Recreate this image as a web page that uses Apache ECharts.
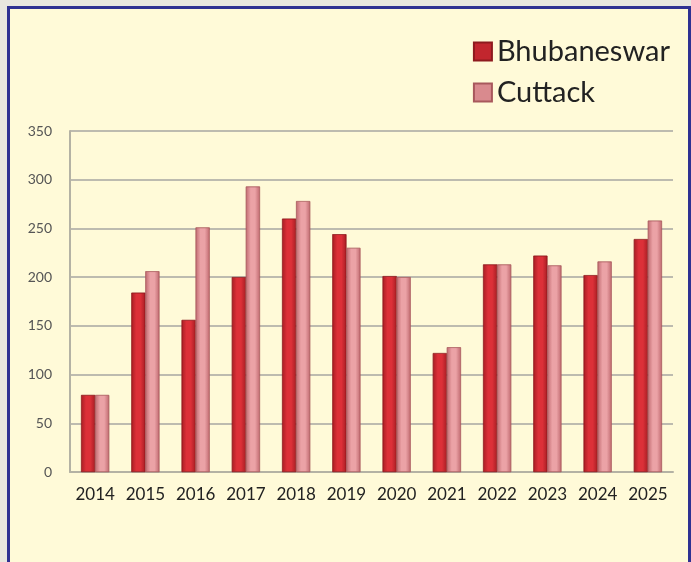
<!DOCTYPE html>
<html>
<head>
<meta charset="utf-8">
<script src="https://cdn.jsdelivr.net/npm/echarts@6/dist/echarts.min.js"></script>
<style>
  html, body { margin: 0; padding: 0; background: #e8e7df; }
  .frame {
    position: absolute; left: 7px; top: 6px; width: 678px; height: 600px;
    background: #fffad8; border: 3px solid #2e3192;
  }
  #chart { position: absolute; left: 0; top: 0; width: 691px; height: 562px; }
</style>
</head>
<body>
<div class="frame"></div>
<div id="chart"></div>
<script>
// 数据
const years = ['2014', '2015', '2016', '2017', '2018', '2019', '2020', '2021', '2022', '2023', '2024', '2025']
const bhubaneswar = [79, 184, 156, 200, 260, 244, 201, 122, 213, 222, 202, 239]
const cuttack = [79, 206, 251, 293, 278, 230, 200, 128, 213, 212, 216, 258]

function barGradient (edge, mid) {
  return new echarts.graphic.LinearGradient(0, 0, 1, 0, [
    { offset: 0, color: edge },
    { offset: 0.35, color: mid },
    { offset: 0.65, color: mid },
    { offset: 1, color: edge }
  ])
}

const chart = echarts.init(document.getElementById('chart'))
chart.setOption({
  backgroundColor: 'transparent',
  legend: {
    orient: 'vertical',
    right: 16,
    top: 32,
    itemWidth: 18,
    itemHeight: 18,
    itemGap: 12,
    textStyle: { fontFamily: 'Lato', fontSize: 29, color: '#222' },
    data: [
      { name: 'Bhubaneswar', icon: 'rect', itemStyle: { color: '#c2262e' } },
      { name: 'Cuttack', icon: 'rect', itemStyle: { color: '#d98a8e' } }
    ]
  },
  grid: { left: 70, right: 18, top: 131, bottom: 90 },
  xAxis: {
    type: 'category',
    data: years,
    axisTick: { show: false },
    axisLine: { lineStyle: { color: '#b4b2a4', width: 2 } },
    axisLabel: { interval: 0, fontFamily: 'Lato', fontSize: 17, color: '#222', margin: 14 }
  },
  yAxis: {
    type: 'value',
    min: 0,
    max: 350,
    interval: 50,
    axisLine: { show: true, lineStyle: { color: '#b4b2a4', width: 2 } },
    axisTick: { show: false },
    splitLine: { lineStyle: { color: '#bdbbaf', width: 2 } },
    axisLabel: { fontFamily: 'Lato', fontSize: 14, color: '#555', margin: 18 }
  },
  series: [
    {
      name: 'Bhubaneswar',
      type: 'bar',
      data: bhubaneswar,
      barWidth: 14,
      barGap: '0%',
      itemStyle: { color: barGradient('#a81e24', '#dc3038'), borderColor: '#8e1a1e', borderWidth: 0.5 }
    },
    {
      name: 'Cuttack',
      type: 'bar',
      data: cuttack,
      barWidth: 14,
      itemStyle: { color: barGradient('#c06a70', '#eba2a6'), borderColor: '#a8585c', borderWidth: 0.5 }
    }
  ]
})
</script>
</body>
</html>
